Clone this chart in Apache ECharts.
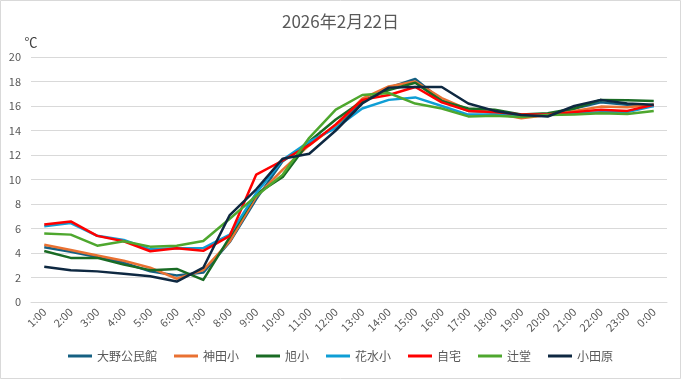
<!DOCTYPE html>
<html><head><meta charset="utf-8">
<script src="https://cdn.jsdelivr.net/npm/echarts@6/dist/echarts.min.js"></script>
<style>html,body{margin:0;padding:0;background:#fff}#c{width:681px;height:379px}</style>
</head><body><div id="c"></div>
<script>
const categories = ["1:00","2:00","3:00","4:00","5:00","6:00","7:00","8:00","9:00","10:00","11:00","12:00","13:00","14:00","15:00","16:00","17:00","18:00","19:00","20:00","21:00","22:00","23:00","0:00"];
const seriesNames = ["大野公民館","神田小","旭小","花水小","自宅","辻堂","小田原"];
const ono    = [4.47,4.1,3.67,3.2,2.5,2.16,2.4,4.9,8.4,11.5,13.0,14.3,16.3,17.5,18.2,16.45,15.6,15.5,15.27,15.2,15.8,16.3,16.1,16.0];
const kanda  = [4.68,4.25,3.8,3.37,2.8,1.9,2.6,4.95,8.6,10.8,12.8,14.4,16.6,17.6,18.0,16.65,15.7,15.4,15.0,15.27,15.6,15.95,15.9,16.1];
const asahi  = [4.16,3.6,3.6,3.05,2.6,2.7,1.8,5.3,8.8,10.2,13.1,14.9,16.4,17.3,17.9,16.4,15.8,15.7,15.3,15.4,15.8,16.5,16.46,16.4];
const hanamizu = [6.19,6.44,5.4,5.07,4.3,4.38,4.4,5.5,8.9,11.6,13.1,14.2,15.8,16.5,16.7,16.0,15.3,15.3,15.2,15.3,15.4,15.5,15.5,16.0];
const jitaku = [6.33,6.58,5.4,4.96,4.14,4.38,4.18,5.4,10.4,11.55,12.8,14.5,16.5,16.9,17.55,16.3,15.6,15.5,15.3,15.3,15.5,15.7,15.6,16.1];
const tsujido = [5.59,5.5,4.6,4.96,4.52,4.6,4.98,6.8,8.66,10.4,13.4,15.7,16.9,17.06,16.2,15.8,15.15,15.2,15.1,15.27,15.3,15.4,15.35,15.6];
const odawara = [2.88,2.6,2.5,2.3,2.1,1.67,2.8,7.1,9.2,11.7,12.1,14.0,16.2,17.5,17.55,17.55,16.2,15.6,15.27,15.14,16.0,16.5,16.2,16.1];
const yTicks = [0,2,4,6,8,10,12,14,16,18,20];
const colors = ["#156082","#E97132","#196B24","#0F9ED5","#FF0000","#4EA72E","#0E2841"];
const allData = [ono,kanda,asahi,hanamizu,jitaku,tsujido,odawara];

const chart = echarts.init(document.getElementById('c'), null, {renderer:'canvas'});
const font = '"Noto Sans CJK JP", "Liberation Sans", sans-serif';
chart.setOption({
  animation:false,
  backgroundColor:'#fff',
  color: colors,
  title:{text:'2026年2月22日', left:'center', top:8, textStyle:{fontFamily:font, fontSize:17, fontWeight:'normal', color:'#595959'}},
  graphic:[{type:'rect', shape:{x:0.5,y:0.5,width:680,height:378}, style:{fill:'none', stroke:'#d9d9d9', lineWidth:1}, silent:true}],
  grid:{left:31, right:14, top:57, bottom:77},
  legend:{bottom:12, left:'center', icon:'rect', itemWidth:24, itemHeight:3, itemGap:17,
    textStyle:{fontFamily:font, fontSize:12, color:'#595959'}, data:seriesNames},
  xAxis:{type:'category', data:categories, boundaryGap:true,
    axisLine:{show:true, lineStyle:{color:'#d9d9d9'}}, axisTick:{show:false},
    axisLabel:{rotate:45, interval:0, fontFamily:font, fontSize:11, color:'#595959', margin:8}},
  yAxis:{type:'value', min:yTicks[0], max:yTicks[yTicks.length-1], interval:2,
    name:'℃', nameLocation:'end', nameGap:8, nameTextStyle:{fontFamily:font, fontSize:13, color:'#404040', align:'center', padding:[0,0,0,0]},
    axisLine:{show:false}, axisTick:{show:false},
    splitLine:{lineStyle:{color:'#d9d9d9'}},
    axisLabel:{fontFamily:font, fontSize:11, color:'#595959', margin:10}},
  series: seriesNames.map((n,i)=>({name:n, type:'line', data:allData[i], showSymbol:false, symbol:'none',
    lineStyle:{width:2.5, color:colors[i], join:'round'}, itemStyle:{color:colors[i]}, z:2+i}))
});
</script></body></html>
